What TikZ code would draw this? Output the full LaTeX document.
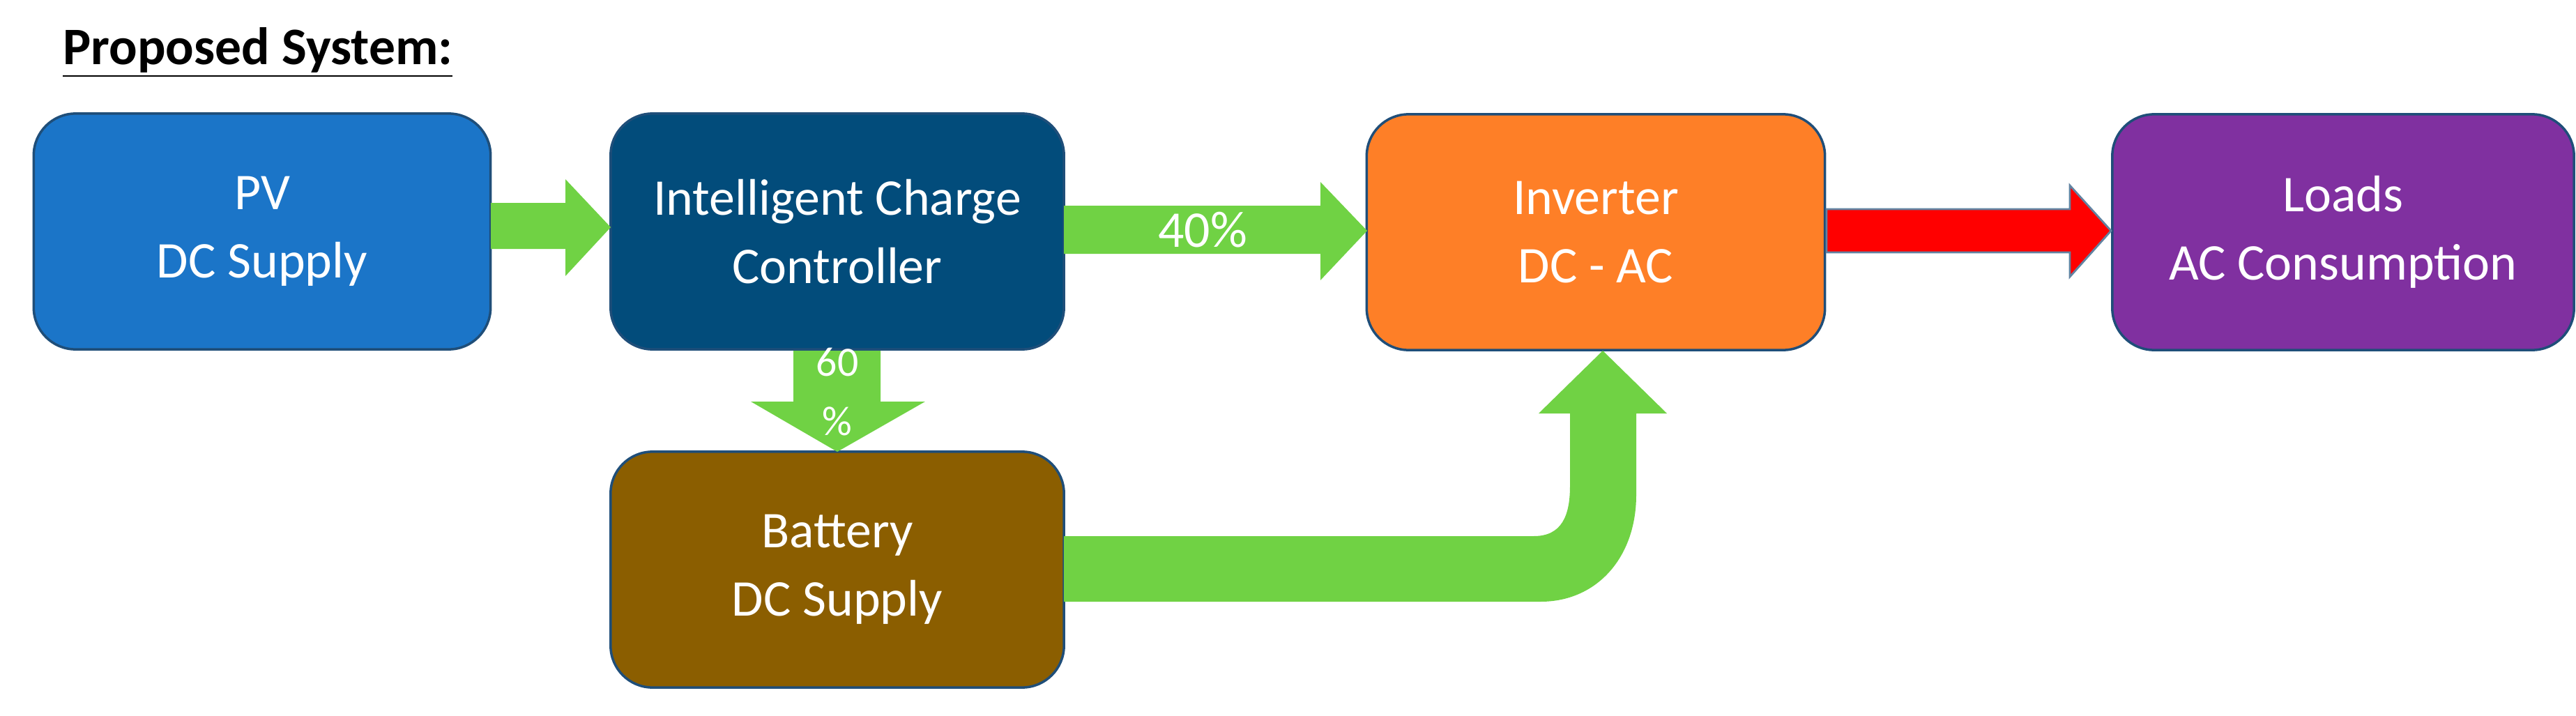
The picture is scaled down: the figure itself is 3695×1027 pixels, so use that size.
\documentclass[tikz,border=0pt]{standalone}
\usepackage{fontspec}
\setmainfont{Carlito}
\usetikzlibrary{positioning, calc}
\definecolor{pvblue}{HTML}{1B75C8}
\definecolor{ctrlblue}{HTML}{024C7B}
\definecolor{batbrown}{HTML}{8B5E00}
\definecolor{invorange}{HTML}{FE7F27}
\definecolor{loadpurple}{HTML}{8030A0}
\definecolor{flowgreen}{HTML}{70D244}
\definecolor{edgeblue}{HTML}{1F4E79}
\begin{document}
\begin{tikzpicture}[x=0.01cm, y=-0.01cm,
  every node/.style={font=\fontsize{21}{28}\selectfont},
  block/.style={draw=edgeblue, line width=1pt, rectangle, rounded corners=0.6cm,
    text=white, align=center, minimum height=3.38cm},
  flow/.style={fill=flowgreen, draw=none}]
\useasboundingbox (0,0) rectangle (3695,1027);
\node[anchor=base west, font=\fontsize{21.5}{24}\selectfont\bfseries] (title) at (78,92)
  {\underline{Proposed System:}};
\node (pv) [block, fill=pvblue, minimum width=6.55cm] at (376,332) {PV\\DC Supply};
\node (ctrl) [block, fill=ctrlblue, minimum width=6.5cm] at (1201,332)
  {Intelligent Charge\\Controller};
\node (bat) [block, fill=batbrown, minimum width=6.5cm] at (1201,817) {Battery\\DC Supply};
\node (inv) [block, fill=invorange, minimum width=6.57cm] at (2289,333) {Inverter\\DC - AC};
\node (load) [block, fill=loadpurple, minimum width=6.62cm] at (3361,333)
  {Loads\\AC Consumption};
% block arrows
\fill[flow] (704,291) -- (811,291) -- (811,257) -- (876,326) -- (811,396) -- (811,357)
  -- (704,357) -- cycle;
\fill[flow] (1526,295) -- (1894,295) -- (1894,261) -- (1961,331) -- (1894,402)
  -- (1894,364) -- (1526,364) -- cycle;
\node[text=white] (p40) at (1725,330) {40\%};
\fill[flow] (1138,503) -- (1263,503) -- (1263,576) -- (1327,576) -- (1201,648)
  -- (1077,576) -- (1138,576) -- cycle;
\node[text=white, align=center, font=\fontsize{17}{24}\selectfont] (p60) at (1201,562) {60\\\%};
\filldraw[fill=red, draw=edgeblue!70, line width=0.8pt] (2620,300) -- (2969,300) -- (2969,266)
  -- (3028,331) -- (2969,397) -- (2969,362) -- (2620,362) -- cycle;
\fill[flow] (1526,769) -- (2200,769) .. controls (2240,769) and (2252,740) .. (2252,697)
  -- (2252,593) -- (2207,593) -- (2299,503) -- (2391,593) -- (2347,593) -- (2347,710)
  .. controls (2347,800) and (2290,863) .. (2210,863) -- (1526,863) -- cycle;
\end{tikzpicture}
\end{document}
